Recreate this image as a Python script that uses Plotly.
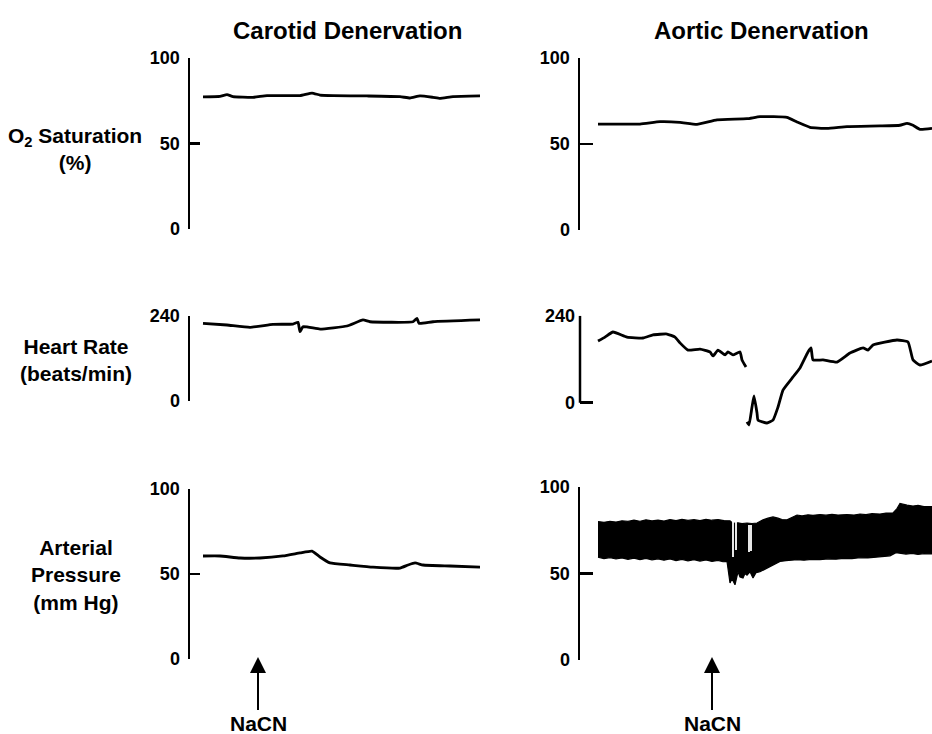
import plotly.graph_objects as go

W, H = 932, 734

# ---------------- data (time in s, arbitrary origin at trace start) ----------------
# Carotid denervation
o2_car_t = [0, 8.5, 12, 15, 25, 32, 48.5, 54.5, 58.5, 65, 82, 98.5, 103.5, 108.5, 115, 118.5, 125, 138.5]
o2_car_v = [77.3, 77.6, 78.6, 77.4, 77.0, 78.0, 78.0, 79.5, 78.3, 78.0, 77.8, 77.4, 76.6, 77.8, 77.0, 76.4, 77.4, 77.8]

hr_car_t = [0, 12, 23.5, 35, 45, 47.5, 48.5, 50, 58.5, 72, 80, 83.5, 105, 107, 108, 115, 138.5]
hr_car_v = [218.6, 213.8, 207.3, 215.7, 216.6, 221.4, 195, 209, 202.5, 211, 228, 223, 223, 232.6, 218.6, 223, 228]

ap_car_t = [0, 8.5, 18.5, 28.5, 40, 48.5, 54.5, 58.5, 63.5, 73.5, 85, 98.5, 102.5, 106, 110, 123.5, 138.5]
ap_car_v = [60.6, 60.6, 59.4, 59.4, 60.6, 62.4, 63.5, 60.0, 56.5, 55.3, 54.0, 53.5, 55.3, 56.5, 55.3, 54.7, 54.0]

# Aortic denervation
o2_aor_t = [0, 21, 31, 41, 49.5, 59.5, 74.5, 81, 94.5, 99.5, 106, 114.5, 124.5, 141, 151, 154.5, 157.5, 161, 167]
o2_aor_v = [61.6, 61.6, 63.0, 62.6, 61.4, 64.0, 64.7, 65.9, 65.5, 62.8, 59.7, 59.1, 60.1, 60.5, 60.9, 62.0, 60.9, 58.5, 59.1]

hr_aor_t = [0, 3.5, 7.5, 14.5, 22.5, 27.5, 34.5, 38.5, 41, 45, 51, 56, 57.5, 60, 63.5, 65, 67.5, 71, 72, 74,
            None,
            74.5, 75.5, 77, 78, 79.5, 80, 84.5, 87.5, 90, 92.5, 97.5, 101, 105, 106.5, 107.5, 112.5, 119.5, 126,
            132.5, 135, 137.5, 149.5, 155, 157.5, 161, 167]
hr_aor_v = [170, 181, 195, 181, 178.5, 187, 189.5, 181, 165, 145, 148, 140, 129, 145, 132, 140, 132, 140, 118, 98.5,
            None,
            -53, -61.5, -12, 18.5, -28, -48, -56, -48, -12, 35, 71, 96, 140, 151, 118, 118, 112, 137,
            151, 145, 159, 173, 167.5, 118, 104, 115]

# arterial pressure envelope (systolic / diastolic)
ap_sys_t = [0, 3, 6, 9, 12, 15, 18, 21, 24, 27, 30, 33, 36, 39, 42, 45, 48, 51, 54, 57, 60, 63, 66, 67.5, 70, 72,
            74.5, 77, 79.5, 82.5, 85, 87.5, 90, 92, 94.5, 97, 99.5, 102, 105, 107.5, 111, 114, 117, 120, 124.5, 128,
            131, 134, 137, 141, 144, 147.5, 149.5, 151, 153, 154.5, 157.5, 160, 163, 167]
ap_sys_v = [80, 79.6, 80.2, 79.7, 80.5, 80.1, 80.8, 80.2, 81.0, 80.4, 80.9, 80.3, 81.2, 80.6, 81.3, 80.7, 81.1, 80.6,
            81.3, 80.8, 81.2, 80.6, 80.5, 79, 79.3, 78.8, 79.2, 78.9, 79.2, 81, 82, 82.7, 82, 81.2, 81, 82.5, 83.8,
            83.3, 83.9, 83.6, 84.1, 83.7, 84.2, 83.8, 84.1, 83.8, 84.4, 84.0, 84.6, 84.4, 84.9, 85, 87.5, 90.5, 89.8,
            89.5, 89.0, 89.4, 88.7, 88.6]
ap_dia_t = [0, 3, 6, 9, 12, 15, 18, 21, 24, 27, 30, 33, 36, 39, 42, 45, 48, 51, 54, 57, 60, 62.5, 64.5, 65.5, 66, 67,
            68.5, 70, 71, 72.5, 73.5, 74.5, 76, 77.5, 79, 81, 83.5, 86, 88.5, 91, 94, 97, 99.5, 103, 107, 111, 115,
            119, 123, 127, 131, 135, 139, 143, 146, 149, 151, 154, 157, 160, 163, 167]
ap_dia_v = [59.4, 58.6, 59.2, 58.4, 59.0, 58.2, 58.9, 58.0, 58.7, 57.9, 58.5, 57.7, 58.4, 57.5, 58.2, 57.3, 58.0, 57.2,
            57.8, 57.0, 57.6, 56.8, 57, 50, 44.5, 47, 43.5, 51, 48, 47.4, 50, 49, 51, 47.4, 50.5, 51, 52.5, 54, 55.5,
            57, 57.4, 57.8, 58, 57.7, 58.2, 58.0, 58.5, 58.3, 58.8, 58.6, 59.1, 59.0, 59.4, 59.6, 60.2, 62, 61.8, 61.2,
            61.6, 61.0, 61.5, 61.3]
# pen gaps (white streaks) inside the pressure band after NaCN
ap_gap_t = [67.5, 69.0, 75.5, 76.5]
ap_gap_lo = [59.5, 63.6, 62.4, 63.0]
ap_gap_hi = [80.0, 80.0, 78.0, 78.0]

nacn_car_t = 27.5
nacn_aor_t = 57

# ---------------- layout helpers ----------------
def py(p):
    return 1 - p / H

def px(p):
    return p / W

FONT = "Liberation Sans, Arial, sans-serif"
LW = 2.8

fig = go.Figure()

def line(t, v, ax):
    fig.add_trace(go.Scatter(x=t, y=v, mode="lines",
                             line=dict(color="black", width=LW, shape="spline", smoothing=0.4),
                             xaxis="x" + ax, yaxis="y" + ax, hoverinfo="skip", showlegend=False,
                             connectgaps=False))

line(o2_car_t, o2_car_v, "")
line(o2_aor_t, o2_aor_v, "2")
line(hr_car_t, hr_car_v, "3")
line(hr_aor_t, hr_aor_v, "4")
line(ap_car_t, ap_car_v, "5")
fig.add_trace(go.Scatter(x=ap_dia_t, y=ap_dia_v, mode="lines", line=dict(color="black", width=1.2),
                         xaxis="x6", yaxis="y6", hoverinfo="skip", showlegend=False))
fig.add_trace(go.Scatter(x=ap_sys_t, y=ap_sys_v, mode="lines", line=dict(color="black", width=1.2),
                         fill="tonexty", fillcolor="black",
                         xaxis="x6", yaxis="y6", hoverinfo="skip", showlegend=False))
gx, gy = [], []
for t, lo, hi in zip(ap_gap_t, ap_gap_lo, ap_gap_hi):
    gx += [t, t, None]
    gy += [lo, hi, None]
fig.add_trace(go.Scatter(x=gx, y=gy, mode="lines", line=dict(color="white", width=1.8),
                         xaxis="x6", yaxis="y6", hoverinfo="skip", showlegend=False))

left_dom = [px(190), px(480)]
right_dom = [px(580), 1.0]
left_rng = [-6.5, 138.5]
right_rng = [-9, 167]

tickfont = dict(family=FONT, size=18, color="black")

def xax(dom, rng, anchor):
    return dict(domain=dom, range=rng, visible=False, anchor=anchor, fixedrange=True, automargin=False)

def yax(ybot_px, ytop_px, rng, tickvals, anchor, ticklen, showline=True):
    return dict(domain=[py(ybot_px), py(ytop_px)], range=rng, tickvals=tickvals,
                ticktext=["<b>%d</b>" % v for v in tickvals],
                ticks="inside", ticklen=ticklen, tickwidth=2.5, tickcolor="black",
                showline=showline, linecolor="black", linewidth=2.5, showgrid=False, zeroline=False,
                tickfont=tickfont, anchor=anchor, ticklabelstandoff=4, fixedrange=True, automargin=False)

fig.update_layout(
    width=W, height=H, margin=dict(l=0, r=0, t=0, b=0, pad=0, autoexpand=False),
    paper_bgcolor="white", plot_bgcolor="rgba(0,0,0,0)", showlegend=False,
    xaxis=xax(left_dom, left_rng, "y"),
    yaxis=yax(229, 58, [0, 100], [0, 50, 100], "x", 10),
    xaxis2=xax(right_dom, right_rng, "y2"),
    yaxis2=yax(230, 58, [0, 100], [0, 50, 100], "x2", 13),
    xaxis3=xax(left_dom, left_rng, "y3"),
    yaxis3=yax(401, 315.7, [0, 240], [0, 240], "x3", 10),
    xaxis4=xax(right_dom, right_rng, "y4"),
    yaxis4=yax(402.7 + 70 / 2.759, 315.7, [-70, 240], [0, 240], "x4", 13, showline=False),
    xaxis5=xax(left_dom, left_rng, "y5"),
    yaxis5=yax(659, 489, [0, 100], [0, 50, 100], "x5", 10),
    xaxis6=xax(right_dom, right_rng, "y6"),
    yaxis6=yax(660, 487, [0, 100], [0, 50, 100], "x6", 13),
)

# axis line for HR aortic panel (range extends below 0 for the trace)
fig.add_shape(type="line", xref="x4 domain", yref="y4", x0=0, x1=0, y0=0, y1=240,
              line=dict(color="black", width=2.5))

annots = []
titlefont = dict(family=FONT, size=24, color="black")
labfont = dict(family=FONT, size=21, color="black")
annots.append(dict(text="<b>Carotid Denervation</b>", x=px(347), y=py(30), xref="paper", yref="paper",
                   showarrow=False, font=titlefont, xanchor="center", yanchor="middle"))
annots.append(dict(text="<b>Aortic Denervation</b>", x=px(761), y=py(30), xref="paper", yref="paper",
                   showarrow=False, font=titlefont, xanchor="center", yanchor="middle"))
annots.append(dict(text="<b>O<sub>2</sub> Saturation<br>(%)</b>", x=px(75), y=py(149), xref="paper",
                   yref="paper", showarrow=False, font=labfont, align="center", xanchor="center",
                   yanchor="middle"))
annots.append(dict(text="<b>Heart Rate<br>(beats/min)</b>", x=px(76), y=py(360), xref="paper", yref="paper",
                   showarrow=False, font=labfont, align="center", xanchor="center", yanchor="middle"))
annots.append(dict(text="<b>Arterial<br>Pressure<br>(mm Hg)</b>", x=px(76), y=py(575), xref="paper",
                   yref="paper", showarrow=False, font=labfont, align="center", xanchor="center",
                   yanchor="middle"))
for t, xa in [(nacn_car_t, "x5"), (nacn_aor_t, "x6")]:
    annots.append(dict(text="<b>NaCN</b>", x=t, y=py(657), xref=xa, yref="paper", showarrow=True,
                       ax=0, ay=66, arrowhead=2, arrowsize=1.6, arrowwidth=2, arrowcolor="black",
                       font=labfont))
fig.update_layout(annotations=annots)

POST = """
var gd = document.getElementById('{plot_id}');
var de = document.documentElement, b = document.body;
de.style.margin = '0'; de.style.padding = '0'; de.style.overflow = 'hidden';
b.style.margin = '0'; b.style.padding = '0'; b.style.overflow = 'hidden';
gd.style.position = 'fixed'; gd.style.top = '0px'; gd.style.left = '0px';
"""

fig.write_html("out.html", config={"displayModeBar": False, "staticPlot": True}, post_script=POST)
